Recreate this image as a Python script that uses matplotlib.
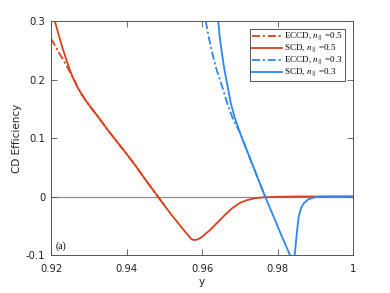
import matplotlib
matplotlib.use('Agg')
import matplotlib.pyplot as plt

# data, y vs CD efficiency
x_scd_05 = [0.9210, 0.9220, 0.9230, 0.9240, 0.9250, 0.9260, 0.9270, 0.9280, 0.9290, 0.9300,
            0.9325, 0.9350, 0.9378, 0.9400, 0.9420, 0.9440, 0.9460, 0.9483, 0.9500, 0.9520,
            0.9540, 0.9560, 0.9572, 0.9580, 0.9590, 0.9600, 0.9620, 0.9640, 0.9660, 0.9680,
            0.9700, 0.9720, 0.9740, 0.9760, 0.9800, 0.9850, 1.0000]
y_scd_05 = [0.300, 0.277, 0.255, 0.235, 0.216, 0.200, 0.187, 0.176, 0.166, 0.157,
            0.136, 0.114, 0.091, 0.073, 0.056, 0.038, 0.020, 0.000, -0.015, -0.032,
            -0.048, -0.064, -0.073, -0.0745, -0.073, -0.069, -0.058, -0.045, -0.032, -0.020,
            -0.011, -0.006, -0.003, -0.0015, -0.0005, 0.0, 0.0]

x_eccd_05 = [0.9200, 0.9220, 0.9240, 0.9265, 0.9270, 0.9280, 0.9290, 0.9300, 0.9325, 0.9350,
             0.9378, 0.9400, 0.9420, 0.9440, 0.9460, 0.9483, 0.9500]
y_eccd_05 = [0.270, 0.247, 0.225, 0.195, 0.187, 0.176, 0.166, 0.157, 0.136, 0.114,
             0.091, 0.073, 0.056, 0.038, 0.020, 0.000, -0.015]

x_scd_03 = [0.9643, 0.9647, 0.9652, 0.9659, 0.9667, 0.9676, 0.9687, 0.9700, 0.9712, 0.9723,
            0.9745, 0.9767, 0.9790, 0.9810, 0.9833, 0.9842, 0.9847, 0.9851, 0.9856, 0.9862,
            0.9869, 0.9881, 0.9900, 0.9930, 1.0000]
y_scd_03 = [0.300, 0.272, 0.248, 0.218, 0.191, 0.160, 0.134, 0.110, 0.090, 0.072,
            0.036, 0.000, -0.035, -0.066, -0.100, -0.120, -0.091, -0.063, -0.035, -0.020,
            -0.012, -0.005, -0.001, 0.0, 0.0]

x_eccd_03 = [0.9610, 0.9617, 0.9626, 0.9638, 0.9652, 0.9666, 0.9681, 0.9695, 0.9700, 0.9712,
             0.9723, 0.9745, 0.9767]
y_eccd_03 = [0.300, 0.275, 0.248, 0.218, 0.191, 0.161, 0.134, 0.116, 0.110, 0.090,
             0.072, 0.036, 0.000]

red = '#D9401A'
blue = '#2E86F2'
dashdot = (0, (4.5, 1.5, 1.2, 1.5))

plt.rcParams['mathtext.fontset'] = 'stix'

fig = plt.figure(figsize=(3.9, 2.93), dpi=100)
ax = fig.add_axes([0.1308, 0.1297, 0.7744, 0.7986])

ax.axhline(0, color='#8a8a8a', lw=0.9, zorder=1)
ax.plot(x_eccd_05, y_eccd_05, color=red, lw=1.3, ls=dashdot, label=r'ECCD, $n_\parallel$ =0.5')
ax.plot(x_scd_05, y_scd_05, color=red, lw=1.3, label=r'SCD, $n_\parallel$ =0.5')
ax.plot(x_eccd_03, y_eccd_03, color=blue, lw=1.3, ls=dashdot, label=r'ECCD, $n_\parallel$ =0.3')
ax.plot(x_scd_03, y_scd_03, color=blue, lw=1.3, label=r'SCD, $n_\parallel$ =0.3')

ax.set_xlim(0.92, 1.0)
ax.set_ylim(-0.1, 0.3)
ax.set_xticks([0.92, 0.94, 0.96, 0.98, 1.0])
ax.set_xticklabels(['0.92', '0.94', '0.96', '0.98', '1'])
ax.set_yticks([-0.1, 0, 0.1, 0.2, 0.3])
ax.set_yticklabels(['-0.1', '0', '0.1', '0.2', '0.3'])
ax.tick_params(direction='in', length=4.3, width=0.6, top=True, right=True,
               labelsize=7.2, colors='#555555', labelcolor='#222222')
ax.tick_params(axis='x', pad=6.5)
ax.tick_params(axis='y', pad=4)
for s in ax.spines.values():
    s.set_color('#555555')
    s.set_linewidth(0.7)

ax.set_xlabel('y', fontsize=7.5, color='#222222', labelpad=2.5)
ax.set_ylabel('CD Efficiency', fontsize=7.5, color='#222222', labelpad=3)

ax.text(0.9211, -0.0846, '(a)', family='Liberation Serif', fontsize=7, va='center')

leg = ax.legend(loc='upper right', prop={'family': 'Liberation Serif', 'size': 6.5},
                fancybox=False, framealpha=1, edgecolor='#555555', borderaxespad=0.9,
                handlelength=3.3, handletextpad=0.3, labelspacing=0.0, borderpad=0.2)
leg.get_frame().set_linewidth(0.7)

fig.savefig('out.png', dpi=100)
